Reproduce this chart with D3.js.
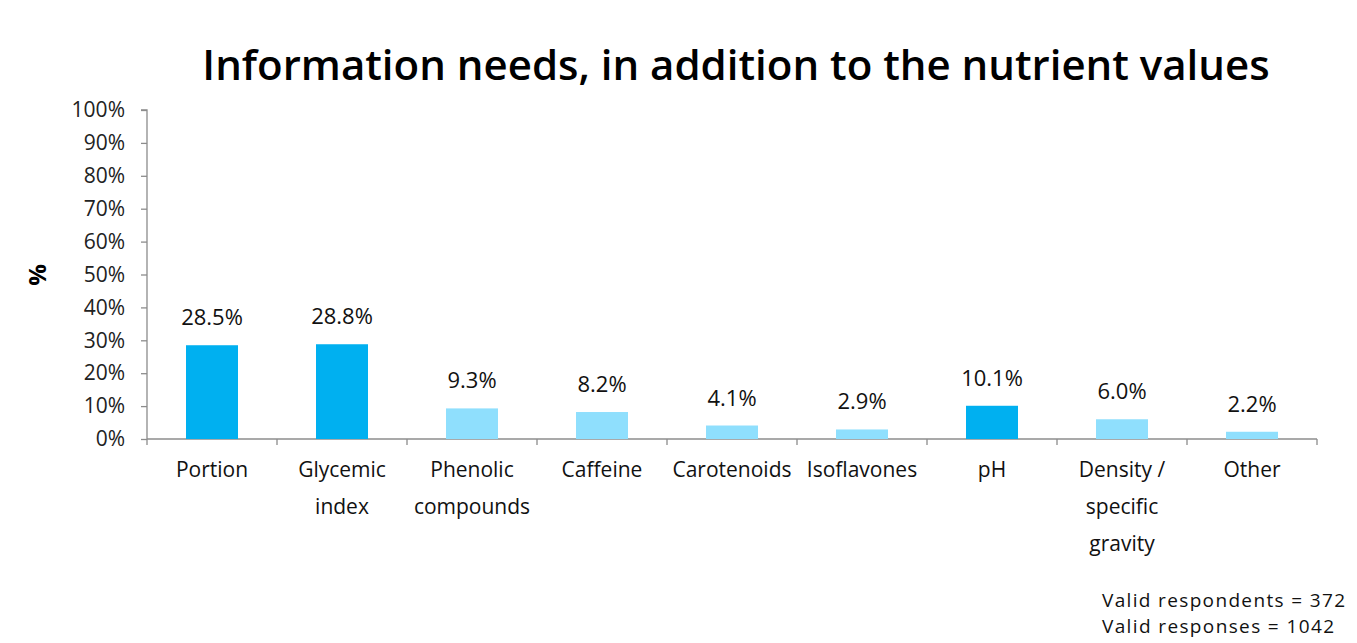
<!DOCTYPE html>
<html>
<head>
<meta charset="utf-8">
<script src="https://cdn.jsdelivr.net/npm/d3@7"></script>
<style>
  html, body { margin: 0; padding: 0; background: #fff; }
  svg { display: block; }
</style>
</head>
<body>
<div id="chart"></div>
<script>
// chart data
const categories = ["Portion", "Glycemic index", "Phenolic compounds", "Caffeine", "Carotenoids",
                    "Isoflavones", "pH", "Density / specific gravity", "Other"];
const categoryLines = [["Portion"], ["Glycemic", "index"], ["Phenolic", "compounds"], ["Caffeine"],
                       ["Carotenoids"], ["Isoflavones"], ["pH"], ["Density /", "specific", "gravity"], ["Other"]];
const values = [28.5, 28.8, 9.3, 8.2, 4.1, 2.9, 10.1, 6.0, 2.2];
const highlighted = [true, true, false, false, false, false, true, false, false];
const yTicks = [0, 10, 20, 30, 40, 50, 60, 70, 80, 90, 100];
const titleText = "Information needs, in addition to the nutrient values";
const yAxisLabel = "%";
const notes = ["Valid respondents = 372", "Valid responses = 1042"];

const width = 1357, height = 643;
const font = "'Open Sans', 'Noto Sans', sans-serif";
const colors = { dark: "#00b0f0", light: "#8fdffd", axis: "#8c8c8c", text: "#000" };

const margin = { top: 110, right: 40, bottom: 204, left: 147 };
const innerW = 1317 - margin.left;
const innerH = height - margin.top - margin.bottom;

const svg = d3.select("#chart").append("svg")
    .attr("width", width)
    .attr("height", height);

svg.append("text")
    .attr("x", 736).attr("y", 80)
    .attr("text-anchor", "middle")
    .style("font-family", font)
    .style("font-size", "42px")
    .style("font-weight", 600)
    .attr("fill", colors.text)
    .text(titleText);

const g = svg.append("g").attr("transform", `translate(${margin.left},${margin.top})`);

const x = d3.scaleBand().domain(categories).range([0, innerW]).paddingInner(0.6).paddingOuter(0.3);
const y = d3.scaleLinear().domain([0, 100]).range([innerH, 0]);

// y axis
const yAxis = g.append("g")
    .call(d3.axisLeft(y).tickValues(yTicks).tickFormat(d => d + "%").tickSize(6).tickPadding(16));
yAxis.select(".domain").attr("stroke", colors.axis).attr("stroke-width", 1.3).attr("d", `M-6,0H0V${innerH}`);
yAxis.selectAll(".tick line").attr("stroke", colors.axis).attr("stroke-width", 1.3);
yAxis.selectAll(".tick text")
    .style("font-family", font).style("font-size", "21px").attr("fill", "#222");

// x axis: ticks at band boundaries
const bounds = d3.range(categories.length + 1).map(i => i * innerW / categories.length);
const xAxisG = g.append("g").attr("transform", `translate(0,${innerH})`);
xAxisG.append("line").attr("x1", 0).attr("x2", innerW).attr("stroke", colors.axis).attr("stroke-width", 1.3);
xAxisG.selectAll(".xt").data(bounds).enter().append("line")
    .attr("x1", d => d).attr("x2", d => d).attr("y1", 0).attr("y2", 6)
    .attr("stroke", colors.axis).attr("stroke-width", 1.3);

// category labels
const catLabels = xAxisG.selectAll(".cat").data(categories).enter().append("text")
    .attr("text-anchor", "middle")
    .attr("x", d => x(d) + x.bandwidth() / 2)
    .attr("y", 38)
    .style("font-family", font).style("font-size", "21px").attr("fill", "#111");
catLabels.each(function(d, i) {
    const t = d3.select(this);
    categoryLines[i].forEach((ln, j) => {
        t.append("tspan").attr("x", x(d) + x.bandwidth() / 2).attr("dy", j === 0 ? 0 : 37).text(ln);
    });
});

// bars
g.selectAll(".bar").data(categories).enter().append("rect")
    .attr("x", d => x(d))
    .attr("y", (d, i) => y(values[i]))
    .attr("width", x.bandwidth())
    .attr("height", (d, i) => innerH - y(values[i]))
    .attr("fill", (d, i) => highlighted[i] ? colors.dark : colors.light);

// value labels
g.selectAll(".val").data(categories).enter().append("text")
    .attr("x", d => x(d) + x.bandwidth() / 2)
    .attr("y", (d, i) => y(values[i]) - 20)
    .attr("text-anchor", "middle")
    .style("font-family", font).style("font-size", "22px").attr("fill", "#111")
    .text((d, i) => values[i].toFixed(1) + "%");

// y axis title
svg.append("text")
    .attr("transform", "translate(46,275) rotate(-90)")
    .attr("text-anchor", "middle")
    .style("font-family", font).style("font-size", "24px").style("font-weight", 700)
    .attr("fill", colors.text)
    .text(yAxisLabel);

// footnote (stretched a little to the reference width, kept short enough not to collide)
const noteWidths = [243, 232];
svg.selectAll(".note").data(notes).enter().append("text")
    .attr("x", 1102).attr("y", (d, i) => 607 + i * 26)
    .attr("textLength", (d, i) => noteWidths[i])
    .attr("lengthAdjust", "spacing")
    .style("font-family", font).style("font-size", "19px").attr("fill", "#111")
    .text(d => d);
</script>
</body>
</html>
